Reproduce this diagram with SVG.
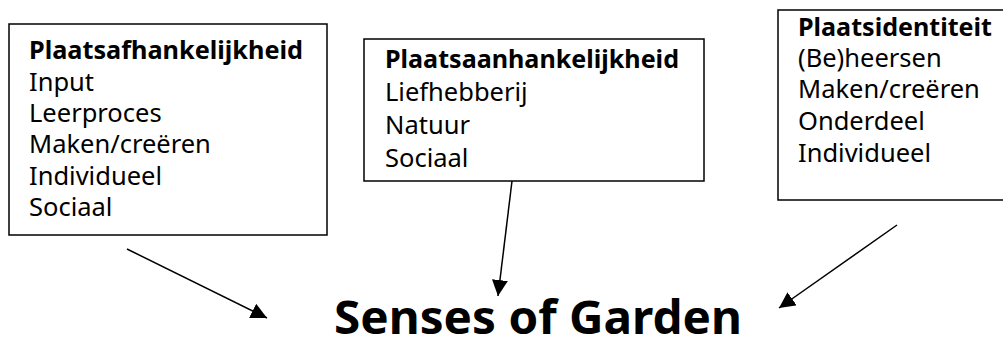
<svg xmlns="http://www.w3.org/2000/svg" width="1003" height="340" viewBox="0 0 1003 340">
  <style>
    .box { fill: #fff; stroke: #000; stroke-width: 1.5; }
    .t { font-family: "Noto Sans", "DejaVu Sans", sans-serif; font-size: 25.5px; fill: #000; }
    .h { font-weight: bold; font-size: 24.7px; }
    .title { font-family: "Noto Sans", "DejaVu Sans", sans-serif; font-size: 46px; font-weight: bold; fill: #000; }
    .conn { stroke: #000; stroke-width: 1.5; fill: none; }
  </style>
  <defs>
    <marker id="arrow" markerUnits="userSpaceOnUse" markerWidth="16" markerHeight="16" viewBox="0 0 16 16" refX="16" refY="8" orient="auto">
      <path d="M0,0 L16,8 L0,16 z" fill="#000"/>
    </marker>
  </defs>
  <rect width="1003" height="340" fill="#fff"/>

  <g id="node-plaatsafhankelijkheid">
    <rect class="box" x="9" y="24" width="318" height="211"/>
    <text class="t h" x="29" y="59" textLength="274" lengthAdjust="spacingAndGlyphs">Plaatsafhankelijkheid</text>
    <text class="t" x="29" y="91">Input</text>
    <text class="t" x="29" y="122">Leerproces</text>
    <text class="t" x="29" y="153">Maken/creëren</text>
    <text class="t" x="29" y="185">Individueel</text>
    <text class="t" x="29" y="216">Sociaal</text>
  </g>

  <g id="node-plaatsaanhankelijkheid">
    <rect class="box" x="364" y="39" width="340" height="142"/>
    <text class="t h" x="385" y="68" textLength="294" lengthAdjust="spacingAndGlyphs">Plaatsaanhankelijkheid</text>
    <text class="t" x="385" y="101">Liefhebberij</text>
    <text class="t" x="385" y="134">Natuur</text>
    <text class="t" x="385" y="167">Sociaal</text>
  </g>

  <g id="node-plaatsidentiteit">
    <rect class="box" x="778" y="10" width="240" height="190"/>
    <text class="t h" x="798" y="36" textLength="194" lengthAdjust="spacingAndGlyphs">Plaatsidentiteit</text>
    <text class="t" x="798" y="67">(Be)heersen</text>
    <text class="t" x="798" y="98">Maken/creëren</text>
    <text class="t" x="798" y="130">Onderdeel</text>
    <text class="t" x="798" y="162">Individueel</text>
  </g>

  <g id="node-senses-of-garden">
    <text class="title" x="334" y="334" textLength="408" lengthAdjust="spacingAndGlyphs">Senses of Garden</text>
  </g>

  <g id="connectors">
    <line class="conn" x1="127" y1="249" x2="267" y2="318" marker-end="url(#arrow)"/>
    <line class="conn" x1="512" y1="181" x2="498" y2="296" marker-end="url(#arrow)"/>
    <line class="conn" x1="897" y1="225" x2="779" y2="308" marker-end="url(#arrow)"/>
  </g>
</svg>
